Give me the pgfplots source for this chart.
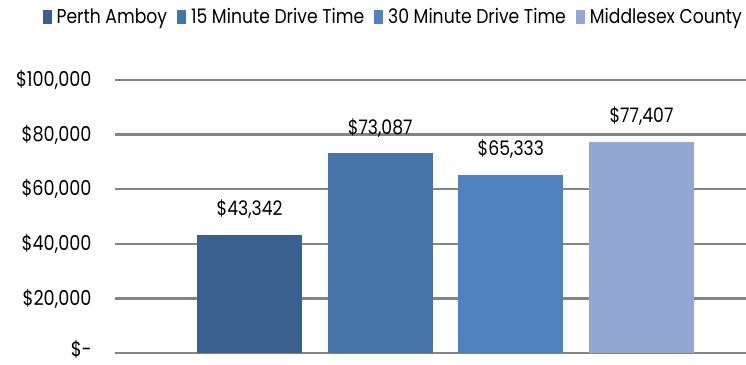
\documentclass[border=0pt]{standalone}
\usepackage{fontspec}
\setmainfont{Poppins}[FakeStretch=0.86]
\usepackage{pgfplots}
\pgfplotsset{compat=1.18}
\definecolor{c1}{HTML}{3B5F8F}
\definecolor{c2}{HTML}{4574AB}
\definecolor{c3}{HTML}{4F82BF}
\definecolor{c4}{HTML}{92A7D4}
\definecolor{gridc}{HTML}{848484}
\begin{document}
\begin{tikzpicture}[x=1pt,y=1pt]
\path[use as bounding box] (0,0) rectangle (746,364);
\begin{axis}[
  at={(115pt,11pt)}, anchor=south west,
  scale only axis, width=631pt, height=273pt,
  xmin=-1.03, xmax=3.8, ymin=0, ymax=100000,
  axis line style={draw=none},
  scaled y ticks=false,
  ymajorgrids, grid style={gridc, line width=2.2pt},
  ytick={0,20000,40000,60000,80000,100000},
  yticklabels={{\raisebox{4pt}[\height][\depth]{\$-}},{\$20,000},{\$40,000},{\$60,000},{\$80,000},{\$100,000}},
  yticklabel style={font=\fontsize{20.5}{22}\selectfont, anchor=east, xshift=-20pt},
  xtick=\empty,
  major tick length=0pt,
  ybar, bar width=105pt, bar shift=0pt,
  every axis plot/.append style={draw=none},
  nodes near coords, point meta=explicit symbolic,
  every node near coord/.append style={font=\fontsize{20}{22}\selectfont, black, yshift=13pt},
  clip=false,
  legend columns=4,
  legend style={draw=none, fill=none, at={(0.9937,1.231)}, anchor=east,
    font=\fontsize{20}{22}\selectfont, inner sep=0pt, nodes={inner sep=0pt},
    /tikz/every odd column/.append style={column sep=5pt},
    /tikz/every even column/.append style={column sep=10pt}},
  legend image code/.code={\fill[#1] (0pt,-7pt) rectangle (9pt,7pt);},
]
\addplot[fill=c1] coordinates {(0,43342) [\$43,342]};
\addplot[fill=c2] coordinates {(1,73087) [\$73,087]};
\addplot[fill=c3] coordinates {(2,65333) [\$65,333]};
\addplot[fill=c4] coordinates {(3,77407) [\$77,407]};
\legend{Perth Amboy,15 Minute Drive Time,30 Minute Drive Time,Middlesex County}
\end{axis}
\end{tikzpicture}
\end{document}
